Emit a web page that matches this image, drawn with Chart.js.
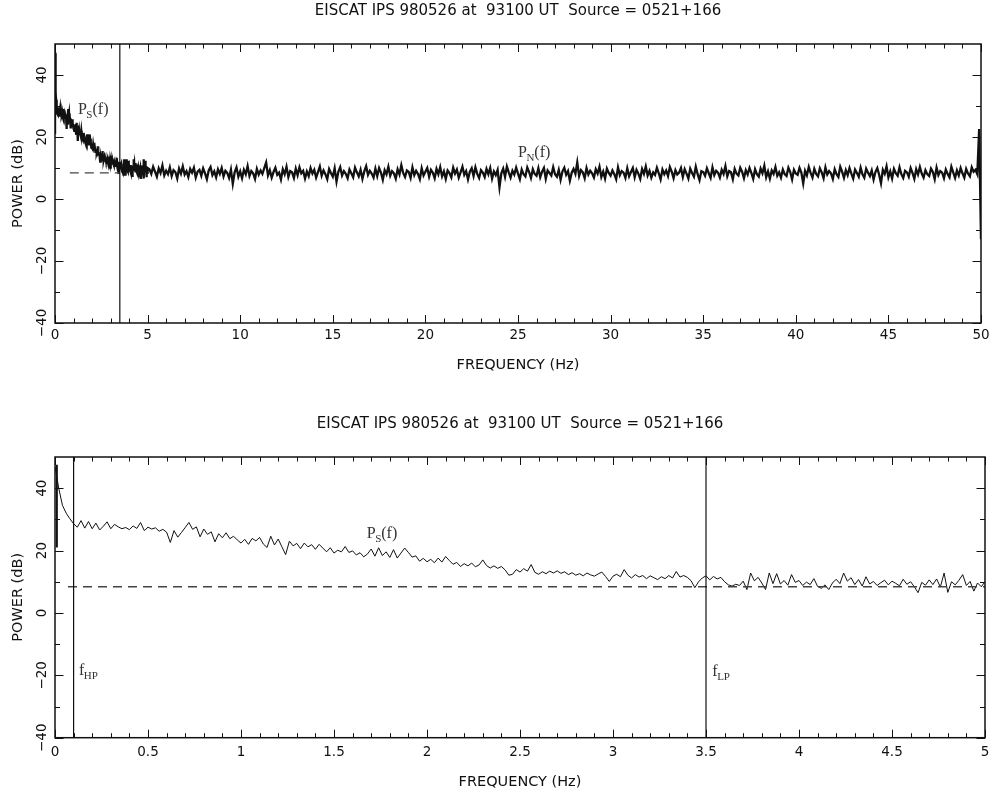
<!DOCTYPE html>
<html>
<head>
<meta charset="utf-8">
<title>EISCAT IPS spectrum</title>
<script src="https://cdn.jsdelivr.net/npm/chart.js@4.4.1/dist/chart.umd.min.js"></script>
<style>
  html, body { margin: 0; padding: 0; background: #fff; }
  #wrap { position: relative; width: 989px; height: 797px; }
  canvas { position: absolute; left: 0; }
  #chartWide { top: 0; }
  #chartZoom { top: 398px; }
</style>
</head>
<body>
<div id="wrap">
  <canvas id="chartWide" width="989" height="398"></canvas>
  <canvas id="chartZoom" width="989" height="399"></canvas>
</div>
<script>
// ? titles
const TITLE = "EISCAT IPS 980526 at  93100 UT  Source = 0521+166";
const X_TITLE = "FREQUENCY (Hz)";
const Y_TITLE = "POWER (dB)";

// ? spectrum 0 - 5 Hz, one value every 0.02 Hz
const LOW_STEP_HZ = 0.02;
const lowPowerDb = [
  47, 40, 34.5, 32, 30.2, 28.6, 27.5, 29.6, 27.2, 29.3,
  27.0, 28.8, 26.6, 27.8, 29.2, 27.0, 28.4, 27.6, 27.0, 27.4,
  26.7, 27.9, 27.1, 29.0, 26.4, 27.5, 26.9, 27.3, 26.2, 26.8,
  25.9, 22.6, 26.4, 24.3, 25.8, 27.4, 29.0, 26.8, 27.6, 24.4,
  26.9, 25.2, 26.0, 22.8, 25.4, 24.1, 25.7, 23.8, 24.6, 23.4,
  22.4, 23.6, 22.0, 23.9, 23.1, 24.2, 22.1, 21.0, 24.6, 21.8,
  23.7, 21.2, 18.7, 23.0, 21.5, 22.3, 20.6, 22.4, 21.2, 21.9,
  20.4, 22.0, 20.8, 19.6, 20.9, 19.2, 20.1, 19.6, 21.3, 19.4,
  19.9, 18.6, 19.3, 18.0, 18.9, 20.5, 18.2, 20.9, 18.4, 19.6,
  17.8, 20.3, 17.6, 19.2, 20.8, 19.4, 17.9, 18.3, 16.6, 17.5,
  16.4, 17.2, 16.1, 17.6, 16.3, 18.1, 16.8, 15.6, 16.2, 14.9,
  15.8, 15.1, 16.0, 14.8, 15.4, 17.0, 15.2, 14.4, 15.1, 14.3,
  14.9, 13.8, 12.1, 12.4, 13.9, 13.1, 14.2, 13.4, 15.5, 13.0,
  12.4, 13.2, 12.6, 13.4, 12.8, 13.5, 12.7, 13.2, 12.3, 12.9,
  12.1, 12.6, 11.9, 12.8, 12.2, 11.8, 12.5, 13.1, 11.7, 10.1,
  11.8, 12.4, 11.6, 13.9, 12.1, 11.2, 12.3, 11.5, 12.0, 11.0,
  11.9, 11.3, 10.7, 11.6, 11.0, 12.0, 11.2, 13.3, 11.5, 12.0,
  11.4, 10.3, 8.1, 10.0, 11.2, 11.9, 10.6, 11.7, 10.9, 11.4,
  10.0, 9.0, 8.6, 9.2, 8.8, 10.2, 7.5, 12.8, 10.3, 11.4,
  9.6, 7.5, 12.8, 9.4, 12.6, 9.3, 10.4, 8.9, 12.3, 9.8,
  10.4, 8.8, 9.9, 9.1, 11.0, 8.5, 7.9, 9.0, 7.5, 9.6,
  10.8, 9.4, 12.8, 10.2, 11.3, 9.1, 10.7, 8.6, 11.6, 9.3,
  10.1, 8.8, 9.7, 10.5, 9.0, 10.2, 9.5, 8.7, 10.8, 9.2,
  10.0, 8.4, 6.5, 9.8, 8.9, 10.6, 9.1, 10.9, 8.3, 12.8,
  6.6, 10.0, 9.0, 10.5, 12.3, 8.8, 10.1, 7.0, 9.6, 8.4,
  10.0
];

// ? spectrum 5.1 - 50 Hz, one value every 0.1 Hz (upper panel only)
const HIGH_START_HZ = 5.1;
const HIGH_STEP_HZ = 0.1;
const highPowerDb = [
  9.6, 8.1, 10.4, 8.8, 7.2, 9.9, 8.4, 10.8, 7.6, 9.1,
  8.0, 10.2, 7.4, 9.3, 8.7, 6.6, 9.8, 8.2, 10.5, 7.9,
  9.0, 7.1, 9.7, 8.5, 10.1, 6.9, 8.8, 9.4, 7.5, 9.9,
  8.3, 6.4, 9.2, 10.3, 7.7, 8.9, 7.0, 9.6, 8.1, 10.0,
  7.3, 9.1, 8.4, 6.8, 9.5, 4.9, 8.6, 10.2, 7.2, 8.9,
  6.7, 9.4, 8.0, 10.6, 7.4, 9.0, 8.3, 6.5, 9.7, 7.9,
  9.2, 8.1, 10.0, 11.8, 7.6, 9.3, 6.9, 8.7, 10.1, 7.8,
  8.5, 6.3, 9.6, 8.0, 10.4, 7.1, 9.0, 8.6, 6.8, 9.8,
  7.7, 10.2, 8.3, 9.1, 6.6, 8.9, 7.4, 10.0, 8.2, 9.4,
  6.9, 8.7, 10.5, 7.5, 9.2, 8.0, 6.4, 9.7, 8.4, 7.2,
  9.9, 5.6, 8.8, 10.3, 7.6, 9.0, 8.1, 6.7, 9.5, 8.3,
  7.0, 10.1, 8.6, 7.3, 9.4, 6.5, 8.9, 10.6, 7.8, 9.1,
  8.2, 6.9, 9.8, 7.4, 10.0, 8.5, 6.2, 9.3, 8.0, 10.4,
  7.5, 9.0, 8.3, 6.6, 9.6, 7.9, 10.9, 8.4, 7.1, 9.2,
  8.7, 6.8, 10.2, 7.7, 9.1, 8.1, 6.4, 9.9, 7.6, 8.8,
  10.0, 7.2, 9.4, 8.5, 6.7, 9.7, 8.0, 10.3, 7.3, 8.9,
  6.5, 9.2, 8.4, 7.0, 10.1, 8.2, 9.5, 6.9, 8.6, 10.4,
  7.8, 9.0, 6.3, 8.8, 9.9, 7.4, 10.2, 8.1, 6.8, 9.3,
  8.5, 7.1, 9.7, 8.0, 10.0, 6.6, 8.9, 7.7, 9.4, 3.8,
  8.3, 9.8, 7.2, 10.5, 8.6, 6.9, 9.1, 7.9, 10.1, 8.2,
  6.4, 9.5, 8.0, 7.3, 10.2, 8.7, 6.8, 9.6, 8.1, 7.5,
  9.9, 7.0, 8.8, 10.0, 6.5, 9.2, 8.4, 7.6, 10.3, 8.0,
  7.2, 9.4, 6.2, 8.9, 10.1, 7.8, 9.0, 5.9, 8.5, 9.7,
  8.1, 11.8, 7.4, 9.3, 8.6, 6.7, 10.0, 7.9, 9.1, 8.3,
  6.9, 9.6, 8.2, 10.4, 7.1, 8.8, 6.6, 9.8, 8.4, 7.5,
  9.2, 8.0, 6.4, 10.2, 7.7, 9.0, 8.5, 6.8, 9.9, 7.3,
  8.7, 10.0, 7.0, 9.4, 8.2, 6.5, 9.7, 8.1, 10.5, 7.6,
  9.1, 6.9, 8.6, 7.8, 10.1, 8.3, 6.3, 9.5, 8.0, 9.2,
  7.4, 10.3, 8.8, 6.7, 9.3, 7.9, 8.5, 10.0, 7.1, 9.6,
  8.2, 6.6, 9.8, 8.4, 7.2, 10.4, 8.0, 6.1, 9.0, 8.7,
  7.5, 9.9, 8.3, 6.8, 10.2, 7.7, 9.1, 8.5, 6.9, 9.4,
  8.1, 10.6, 7.3, 9.0, 8.6, 6.4, 9.7, 8.2, 7.6, 10.1,
  8.8, 6.7, 9.3, 7.9, 10.0, 8.4, 6.5, 9.6, 8.0, 7.2,
  9.8, 8.3, 10.7, 7.0, 8.9, 6.6, 9.2, 8.1, 10.3, 7.5,
  8.6, 6.9, 9.5, 8.0, 7.4, 10.1, 8.7, 6.3, 9.4, 8.2,
  7.8, 10.0, 8.5, 5.0, 9.1, 7.6, 10.3, 8.4, 6.9, 9.7,
  8.1, 7.3, 9.9, 8.6, 6.7, 10.2, 7.9, 9.0, 8.3, 6.5,
  9.6, 8.0, 7.1, 10.4, 8.8, 6.8, 9.3, 7.7, 10.0, 8.2,
  6.6, 9.5, 8.4, 7.2, 10.1, 8.0, 6.9, 9.8, 8.5, 7.4,
  9.2, 6.3, 8.7, 10.0, 7.8, 5.1, 9.4, 8.1, 10.5, 7.0,
  8.9, 6.6, 9.7, 8.3, 7.5, 10.2, 8.0, 6.8, 9.1, 8.6,
  7.2, 10.0, 8.4, 6.5, 9.6, 7.9, 10.3, 8.2, 6.9, 9.3,
  8.0, 7.4, 9.8, 8.7, 6.4, 10.1, 7.7, 9.0, 8.5, 6.7,
  9.5, 8.1, 7.0, 10.4, 8.6, 6.8, 9.2, 7.6, 10.0, 8.3,
  6.9, 9.7, 8.2, 7.3, 10.2, 8.8, 9.4, 8.0, 22.6, -13.0
];

// ? DC spike at 0 Hz
const dcFreqHz = [0.01, 0.01];
const dcPowerDb = [21, 47.5];

// ? noise level (dashed) and filter cut-offs (vertical lines)
const noiseLevelDb = 8.4;
const wideDashHz = [0.8, 3.5];
const zoomDashHz = [0.07, 5];
const wideCutsHz = [3.5];
const zoomCutsHz = [0.1, 3.5];

// ? axis ranges / ticks
const yRange = [-40, 50];
const wideXRange = [0, 50];
const zoomXRange = [0, 5];

// ? annotations
const wideNotes = [
  { main: "P", sub: "S", tail: "(f)", x: 1.24, y: 27.4 },
  { main: "P", sub: "N", tail: "(f)", x: 25.0, y: 13.4 },
];
const zoomNotes = [
  { main: "P", sub: "S", tail: "(f)", x: 1.676, y: 24.0 },
  { main: "f", sub: "HP", tail: "", x: 0.129, y: -19.8 },
  { main: "f", sub: "LP", tail: "", x: 3.534, y: -20.3 },
];

const FONT = "'DejaVu Sans', sans-serif";
const SERIF = "'Liberation Serif', 'DejaVu Serif', serif";
const INK = "#111";

const lowPoints = lowPowerDb.map((v, i) => ({ x: +(i * LOW_STEP_HZ).toFixed(2), y: v }));
const highPoints = highPowerDb.map((v, i) => ({ x: +(HIGH_START_HZ + i * HIGH_STEP_HZ).toFixed(1), y: v }));
const dcPoints = dcFreqHz.map((f, i) => ({ x: f, y: dcPowerDb[i] }));

// ? frame, inward ticks on all sides, text annotations
const frameTicks = {
  id: "frameTicks",
  afterDatasetsDraw(chart, args, opts) {
    const { ctx, chartArea: a } = chart;
    const xs = chart.scales.x;
    const ys = chart.scales.y;
    ctx.save();
    ctx.strokeStyle = INK;
    ctx.lineWidth = 1;
    ctx.beginPath();
    const nx = Math.round((xs.max - xs.min) / opts.xMinor);
    for (let i = 0; i <= nx; i++) {
      const px = Math.round(xs.getPixelForValue(xs.min + i * opts.xMinor)) + 0.5;
      const len = i % opts.xMajorEvery === 0 ? 8 : 4.5;
      ctx.moveTo(px, a.bottom);
      ctx.lineTo(px, a.bottom - len);
      ctx.moveTo(px, a.top);
      ctx.lineTo(px, a.top + len);
    }
    for (let i = 0; i <= 8; i++) {
      const py = Math.round(ys.getPixelForValue(-40 + i * 10)) + 0.5;
      const len = i % 2 === 0 ? 8.5 : 5;
      ctx.moveTo(a.left, py);
      ctx.lineTo(a.left + len, py);
      ctx.moveTo(a.right, py);
      ctx.lineTo(a.right - len, py);
    }
    ctx.stroke();
    ctx.lineWidth = 1.5;
    ctx.strokeRect(a.left, a.top, a.right - a.left, a.bottom - a.top);

    ctx.fillStyle = "#333";
    ctx.textAlign = "left";
    ctx.textBaseline = "alphabetic";
    opts.notes.forEach((n) => {
      const px = xs.getPixelForValue(n.x);
      const py = ys.getPixelForValue(n.y);
      ctx.font = "16px " + SERIF;
      ctx.fillText(n.main, px, py);
      const w = ctx.measureText(n.main).width;
      ctx.font = "11px " + SERIF;
      ctx.fillText(n.sub, px + w - 0.5, py + 4);
      const ws = ctx.measureText(n.sub).width;
      ctx.font = "16px " + SERIF;
      if (n.tail) ctx.fillText(n.tail, px + w + ws - 0.5, py);
    });
    ctx.restore();
  },
};

function lineSet(data, width, dash) {
  return {
    data,
    borderColor: INK,
    borderWidth: width,
    borderDash: dash || [],
    pointRadius: 0,
    tension: 0,
    fill: false,
  };
}

function buildChart(id, cfg) {
  const datasets = [];
  cfg.cuts.forEach((f) => datasets.push(lineSet([{ x: f, y: yRange[0] }, { x: f, y: yRange[1] }], 1.2)));
  datasets.push(lineSet([{ x: cfg.dash[0], y: noiseLevelDb }, { x: cfg.dash[1], y: noiseLevelDb }], 1.3, [9, 6]));
  datasets[datasets.length - 1].borderColor = "#444";
  datasets.push(lineSet(dcPoints, 2));
  datasets.push(lineSet(cfg.points, cfg.lineWidth));

  return new Chart(document.getElementById(id), {
    type: "line",
    data: { datasets },
    options: {
      responsive: false,
      animation: false,
      events: [],
      layout: { padding: { left: 0, right: cfg.rightPad, top: 0, bottom: 0 } },
      plugins: {
        legend: { display: false },
        tooltip: { enabled: false },
        title: {
          display: true,
          text: TITLE,
          fullSize: false,
          color: INK,
          font: { family: FONT, size: 15, weight: "normal" },
          padding: cfg.titlePad,
        },
        frameTicks: { xMinor: cfg.xMinor, xMajorEvery: cfg.xMajorEvery, notes: cfg.notes },
      },
      scales: {
        x: {
          type: "linear",
          min: cfg.xRange[0],
          max: cfg.xRange[1],
          grid: { display: false, drawTicks: false },
          border: { display: false },
          ticks: {
            stepSize: cfg.xStep,
            autoSkip: false,
            maxRotation: 0,
            color: INK,
            padding: cfg.xTickPad,
            font: { family: FONT, size: 13.5 },
            callback: (v) => String(Math.round(v * 10) / 10),
          },
          title: {
            display: true,
            text: X_TITLE,
            color: INK,
            font: { family: FONT, size: 14.5 },
            padding: { top: 0, bottom: cfg.xTitlePad },
          },
          afterFit(s) {
            s.height = cfg.xAxisHeight;
            s.paddingLeft = 0;
            s.paddingRight = 0;
          },
        },
        y: {
          min: yRange[0],
          max: yRange[1],
          grid: { display: false, drawTicks: false },
          border: { display: false },
          ticks: {
            stepSize: 20,
            minRotation: 90,
            maxRotation: 90,
            crossAlign: "center",
            padding: -1.5,
            color: INK,
            font: { family: FONT, size: 13.5 },
            callback: (v) => (v < 0 ? "\u2212" + Math.abs(v) : String(v)),
          },
          afterBuildTicks(s) {
            s.ticks = s.ticks.filter((t) => t.value <= 40);
          },
          title: {
            display: true,
            text: Y_TITLE,
            color: INK,
            font: { family: FONT, size: 14.5 },
            padding: { top: 9.3, bottom: 0 },
          },
          afterFit(s) {
            s.width = 55;
            s.paddingTop = 0;
            s.paddingBottom = 0;
          },
        },
      },
    },
    plugins: [frameTicks],
  });
}

// ? upper panel: 0 - 50 Hz
buildChart("chartWide", {
  points: lowPoints.concat(highPoints),
  lineWidth: 2.3,
  cuts: wideCutsHz,
  dash: wideDashHz,
  notes: wideNotes,
  xRange: wideXRange,
  xStep: 5,
  xMinor: 1,
  xMajorEvery: 5,
  rightPad: 8,
  titlePad: { top: 2, bottom: 24 },
  xAxisHeight: 75,
  xTickPad: 4,
  xTitlePad: 24.3,
});

// ? lower panel: 0 - 5 Hz
buildChart("chartZoom", {
  points: lowPoints,
  lineWidth: 1,
  cuts: zoomCutsHz,
  dash: zoomDashHz,
  notes: zoomNotes,
  xRange: zoomXRange,
  xStep: 0.5,
  xMinor: 0.1,
  xMajorEvery: 5,
  rightPad: 4,
  titlePad: { top: 17, bottom: 24 },
  xAxisHeight: 59.3,
  xTickPad: 7,
  xTitlePad: 6.3,
});
</script>
</body>
</html>
